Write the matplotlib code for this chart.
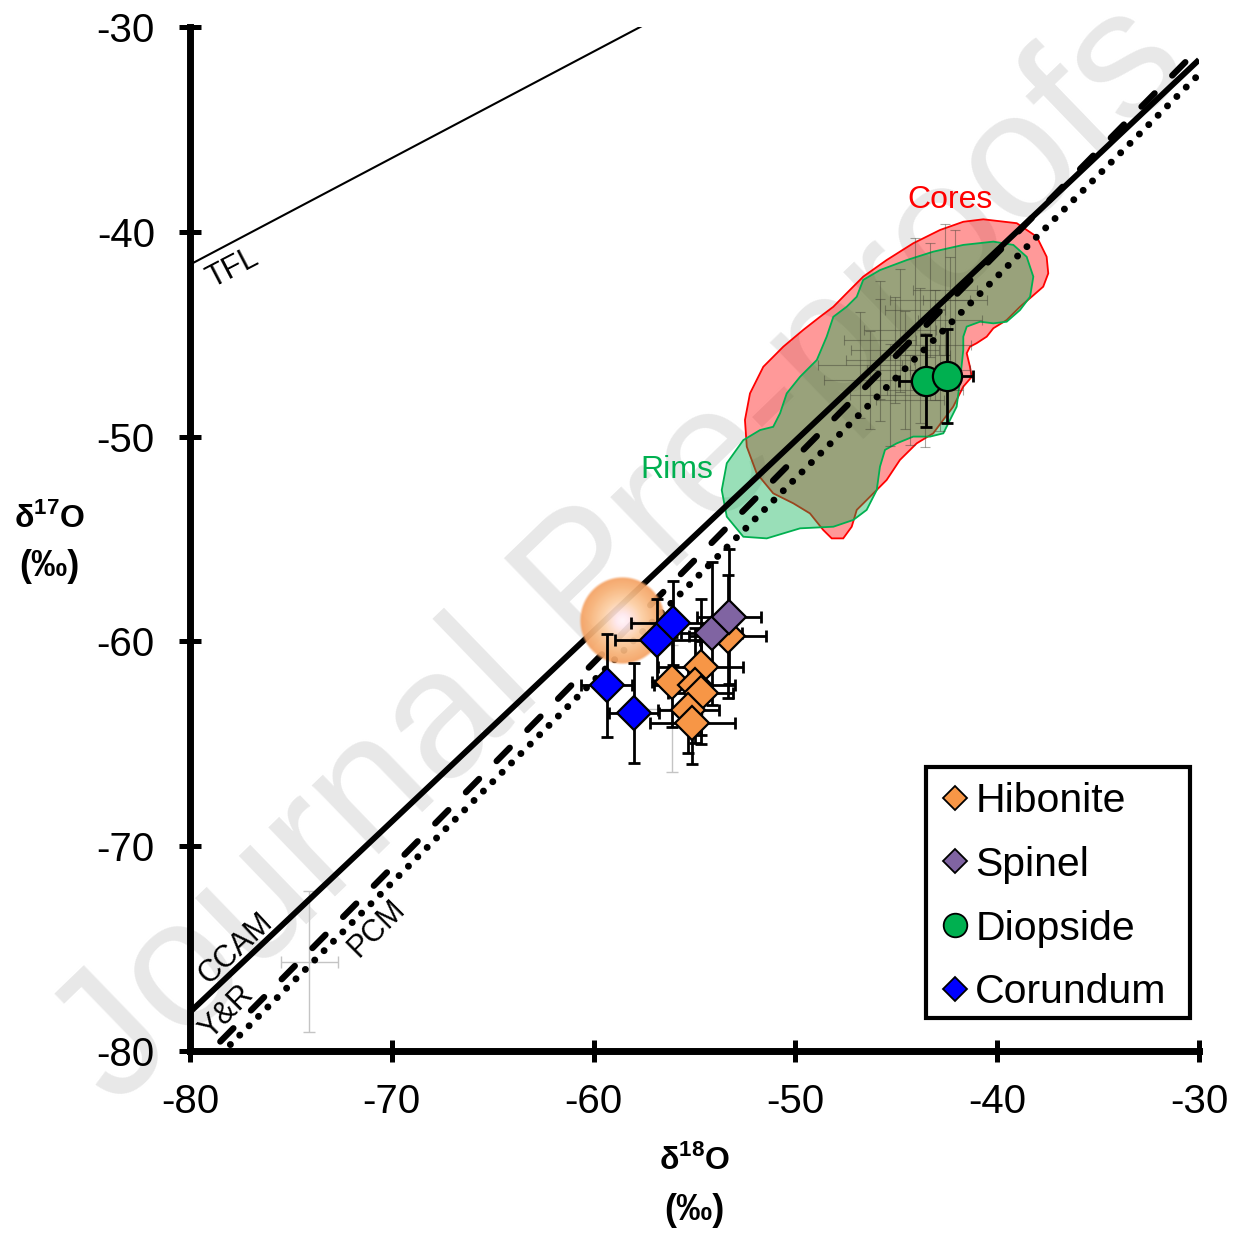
import numpy as np
import matplotlib
matplotlib.use("Agg")
import matplotlib.pyplot as plt
from matplotlib.lines import Line2D
from matplotlib.patches import Polygon, Rectangle

plt.rcParams['font.family'] = ['Liberation Sans', 'DejaVu Sans']
plt.rcParams['axes.unicode_minus'] = False
plt.rcParams['mathtext.fontset'] = 'custom'
plt.rcParams['mathtext.rm'] = 'Liberation Sans'
plt.rcParams['mathtext.bf'] = 'Liberation Sans:bold'

# ---------------- data ----------------
# Hibonite
hib_x = [-56.1, -54.7, -55.0, -54.7, -55.3, -55.1, -53.35]
hib_y = [-62.0, -61.25, -62.15, -62.5, -63.35, -64.0, -59.75]
hib_xerr = [1.0, 2.1, 2.0, 1.6, 1.5, 2.1, 1.9]
hib_yerr = [2.2, 3.3, 2.8, 2.5, 2.1, 2.0, 3.0]
# Spinel
spl_x = [-54.15, -53.3]
spl_y = [-59.6, -58.8]
spl_xerr = [1.5, 1.6]
spl_yerr = [3.5, 3.3]
# Diopside
di_x = [-43.55, -42.5]
di_y = [-47.3, -47.05]
di_xerr = [1.3, 1.3]
di_yerr = [2.25, 2.3]
# Corundum
cor_x = [-59.35, -58.0, -56.85, -56.05]
cor_y = [-62.15, -63.5, -59.95, -59.1]
cor_xerr = [1.25, 1.25, 2.1, 2.1]
cor_yerr = [2.5, 2.45, 2.0, 2.05]

# literature data (faint grey)
lit_x = [-44.82, -44.07, -43.33, -42.59, -45.06, -45.81, -46.30, -44.57, -43.83,
         -43.08, -42.34, -45.31, -44.32, -43.58, -42.83, -46.80, -42.09, -45.81]
lit_y = [-44.8, -43.82, -43.33, -42.84, -45.77, -46.26, -47.24, -46.75, -46.02,
         -45.53, -44.31, -47.97, -48.21, -47.72, -46.75, -46.50, -43.33, -45.28]
lit_xerr = [1.8, 1.5, 2.0, 1.6, 2.2, 1.7, 2.3, 1.9, 1.5, 1.8, 1.6, 2.0, 1.7, 1.9,
            1.5, 2.1, 1.6, 1.8]
lit_yerr = [3.0, 3.5, 2.8, 3.2, 2.6, 3.0, 2.4, 2.9, 3.3, 2.7, 3.1, 2.5, 2.2, 2.8,
            3.0, 2.6, 3.4, 2.9]
lit2_x = [-74.08, -56.1]
lit2_y = [-75.65, -63.3]
lit2_xerr = [1.41, 1.5]
lit2_yerr = [3.44, 3.1]

# Sun
sun_x, sun_y, sun_r = -58.55, -59.0, 2.15

# Cores and rims outlines (delta18O, delta17O)
cores_x = [-40.69, -39.03, -38.04, -37.55, -37.47, -37.72, -38.29, -38.87, -39.53,
           -40.19, -40.52, -41.02, -41.35, -41.51, -41.35, -41.26, -41.68, -42.18,
           -43.17, -43.99, -44.82, -45.48, -46.47, -46.96, -47.21, -47.63, -48.20,
           -48.62, -49.28, -50.10, -51.10, -51.92, -52.41, -52.50, -52.25, -51.59,
           -50.60, -49.61, -48.78, -48.12, -47.46, -46.64, -45.48, -44.16, -42.83,
           -41.68]
cores_y = [-39.39, -39.58, -40.24, -41.22, -42.03, -42.68, -43.17, -43.66, -44.31,
           -44.71, -45.12, -45.44, -45.61, -45.93, -46.59, -47.08, -47.56, -48.54,
           -49.84, -50.33, -51.14, -52.12, -53.10, -53.58, -54.40, -54.97, -54.97,
           -54.56, -53.75, -53.26, -52.77, -51.79, -50.49, -49.19, -47.89, -46.59,
           -45.61, -44.79, -44.15, -43.66, -43.00, -42.19, -41.38, -40.56, -39.91,
           -39.51]
rims_x = [-40.19, -39.20, -38.54, -38.21, -38.37, -38.87, -39.53, -40.19, -40.85,
          -41.51, -41.68, -41.68, -41.84, -42.01, -42.67, -43.33, -44.16, -44.98,
          -45.56, -45.81, -45.97, -46.47, -47.13, -48.12, -49.77, -51.42, -52.58,
          -53.40, -53.65, -53.40, -52.58, -51.75, -51.10, -50.76, -50.43, -49.77,
          -48.94, -48.45, -48.12, -47.46, -46.96, -46.64, -45.81, -44.48, -43.17,
          -41.68]
rims_y = [-40.48, -40.64, -41.22, -42.19, -43.17, -43.82, -44.39, -44.47, -44.39,
          -44.63, -45.12, -45.77, -47.24, -48.54, -49.84, -50.00, -50.00, -50.33,
          -50.65, -51.47, -52.61, -53.58, -54.07, -54.40, -54.48, -54.97, -54.89,
          -53.91, -52.61, -51.30, -50.17, -49.68, -49.52, -48.86, -47.89, -47.08,
          -46.26, -45.12, -44.15, -43.66, -43.17, -42.35, -41.87, -41.38, -40.97,
          -40.64]

# reference lines: slope, intercept, x-range
tfl_slope, tfl_int, tfl_xr = 0.52, 0.0, (-80, -30)
ccam_slope, ccam_int, ccam_xr = 0.93, -3.7, (-80, -30)
yr_slope, yr_int, yr_xr = 1.0, -1.04, (-78.5, -30)
pcm_slope, pcm_int, pcm_xr = 0.987, -2.70, (-78.0, -30)

x_ticks = [-80, -70, -60, -50, -40, -30]
y_ticks = [-80, -70, -60, -50, -40, -30]

c_hib = '#F79646'
c_spl = '#8064A2'
c_di = '#00B050'
c_cor = '#0000FF'

# ---------------- figure ----------------
W, H = 1241, 1234
fig = plt.figure(figsize=(W / 100, H / 100), dpi=100)
fig.patch.set_facecolor('white')
AX_L, AX_R, AX_T, AX_B = 190, 1199, 27, 1051
ax = fig.add_axes([AX_L / W, 1 - AX_B / H, (AX_R - AX_L) / W, (AX_B - AX_T) / H])
ax.patch.set_visible(False)

def axfrac(px, py):
    return (px - AX_L) / (AX_R - AX_L), (AX_B - py) / (AX_B - AX_T)

# watermark
fig.text(622 / W, 1 - 555 / H, 'Journal Pre-proofs', rotation=44, fontsize=131,
         color='#e8e8e8', ha='center', va='center', rotation_mode='anchor',
         zorder=-10, family='Liberation Sans')

# regions
ax.add_patch(Polygon(np.column_stack([cores_x, cores_y]), closed=True,
                     facecolor=(1, 0, 0, 0.4), edgecolor='#ff0000', lw=1.3, zorder=1))
ax.add_patch(Polygon(np.column_stack([rims_x, rims_y]), closed=True,
                     facecolor=(0, 0.69, 0.31, 0.4), edgecolor='#00b050', lw=1.3, zorder=1.1))

# literature error bars
ax.errorbar(lit_x, lit_y, xerr=lit_xerr, yerr=lit_yerr, fmt='none',
            ecolor=(0.25, 0.25, 0.2, 0.45), elinewidth=0.8, capsize=3.5,
            capthick=0.8, zorder=1.5)
ax.errorbar(lit2_x, lit2_y, xerr=lit2_xerr, yerr=lit2_yerr, fmt='none',
            ecolor='#c4c4c4', elinewidth=1.0, capsize=4, capthick=1.0, zorder=1.5)

# reference lines
def ref_line(slope, intercept, xr):
    xs = np.array(xr, dtype=float)
    return xs, slope * xs + intercept

xs, ys = ref_line(tfl_slope, tfl_int, tfl_xr)
ax.plot(xs, ys, color='black', lw=1.5, zorder=2)
xs, ys = ref_line(ccam_slope, ccam_int, ccam_xr)
ax.plot(xs, ys, color='black', lw=4.2, solid_capstyle='butt', zorder=2)
xs, ys = ref_line(yr_slope, yr_int, yr_xr)
ax.plot(xs, ys, color='black', lw=4.5, dashes=(3.0, 4.0), dash_capstyle='round', zorder=2)
xs, ys = ref_line(pcm_slope, pcm_int, pcm_xr)
ax.plot(xs, ys, color='black', lw=5.0, dashes=(0.01, 1.9), dash_capstyle='round', zorder=2)

# Sun glow
N = 301
g = np.linspace(-1, 1, N)
gx, gy = np.meshgrid(g, g)
r = np.sqrt(gx ** 2 + gy ** 2)
stops = np.array([0.0, 0.15, 0.45, 0.75, 1.0])
cols = np.array([[1.00, 0.96, 0.98],
                 [1.00, 0.91, 0.93],
                 [0.99, 0.81, 0.64],
                 [0.97, 0.70, 0.47],
                 [0.96, 0.62, 0.37]])
rc = np.clip(r, 0, 1)
col = np.dstack([np.interp(rc, stops, cols[:, k]) for k in range(3)])
alpha = np.clip((1 - r) / 0.06, 0, 1) * 0.93
img = np.dstack([col, alpha])
ax.imshow(img, extent=[sun_x - sun_r, sun_x + sun_r, sun_y - sun_r, sun_y + sun_r],
          origin='lower', aspect='auto', zorder=3, interpolation='bilinear')

# data points
ekw = dict(fmt='none', ecolor='black', elinewidth=2.0, capsize=4.3, capthick=2.0, zorder=4)
ax.errorbar(hib_x, hib_y, xerr=hib_xerr, yerr=hib_yerr, **ekw)
ax.errorbar(spl_x, spl_y, xerr=spl_xerr, yerr=spl_yerr, **ekw)
ax.errorbar(cor_x, cor_y, xerr=cor_xerr, yerr=cor_yerr, **ekw)
ax.errorbar(di_x, di_y, xerr=di_xerr, yerr=di_yerr, **ekw)
mkw = dict(ls='none', mec='black', mew=1.6, zorder=5)
ax.plot(hib_x, hib_y, marker='D', ms=17, mfc=c_hib, **mkw)
ax.plot(spl_x, spl_y, marker='D', ms=17, mfc=c_spl, **mkw)
ax.plot(cor_x, cor_y, marker='D', ms=17, mfc=c_cor, **mkw)
ax.plot(di_x, di_y, marker='o', ms=21, mfc=c_di, **mkw)

# text labels
ax.text(-42.34, -38.45, 'Cores', color='#ff0000', fontsize=23, ha='center', va='center')
ax.text(-55.87, -51.63, 'Rims', color='#00b050', fontsize=23, ha='center', va='center')
ax.text(-77.9, -41.8, 'TFL', fontsize=22, rotation=27.5, ha='center', va='center',
        rotation_mode='anchor')
ax.text(-77.75, -75.0, 'CCAM', fontsize=22, rotation=43, ha='center', va='center',
        rotation_mode='anchor')
ax.text(-78.15, -78.1, 'Y&R', fontsize=22, rotation=45, ha='center', va='center',
        rotation_mode='anchor')
ax.text(-70.73, -74.04, 'PCM', fontsize=22, rotation=45, ha='center', va='center',
        rotation_mode='anchor')

# axes styling
ax.set_xlim(-80, -30)
ax.set_ylim(-80, -30)
ax.set_xticks(x_ticks)
ax.set_yticks(y_ticks)
ax.set_xticklabels([str(v) for v in x_ticks])
ax.set_yticklabels([str(v) for v in y_ticks])
for s in ['top', 'right']:
    ax.spines[s].set_visible(False)
for s in ['left', 'bottom']:
    ax.spines[s].set_linewidth(5)
ax.tick_params(direction='inout', length=16.5, width=3.6, labelsize=29, pad=17)
ax.tick_params(axis='x', pad=15)

# axis titles
tkw = dict(fontsize=23, fontweight='bold', ha='center', va='center')
pkw = dict(fontsize=26, fontweight='bold', ha='center', va='center')
fig.text(50 / W, 1 - 518 / H, r'δ$^{\mathbf{17}}$O', **tkw)
fig.text(49 / W, 1 - 567 / H, '(‰)', **pkw)
fig.text(695 / W, 1 - 1160 / H, r'δ$^{\mathbf{18}}$O', **tkw)
fig.text(694 / W, 1 - 1210 / H, '(‰)', **pkw)

# legend (frame drawn separately)
x0, y0 = axfrac(926, 1018)
x1, y1 = axfrac(1190, 767)
ax.add_patch(Rectangle((x0, y0), x1 - x0, y1 - y0, transform=ax.transAxes,
                       facecolor='white', edgecolor='black', lw=3, zorder=9,
                       joinstyle='miter'))
handles = [
    Line2D([], [], ls='none', marker='D', ms=12, mfc=c_hib, mec='black', mew=1.3),
    Line2D([], [], ls='none', marker='D', ms=12, mfc=c_spl, mec='black', mew=1.3),
    Line2D([], [], ls='none', marker='o', ms=17, mfc=c_di, mec='black', mew=1.3),
    Line2D([], [], ls='none', marker='D', ms=12, mfc=c_cor, mec='black', mew=1.3),
]
labels = ['Hibonite', 'Spinel', 'Diopside', 'Corundum']
leg = ax.legend(handles, labels, loc='upper left',
                bbox_to_anchor=axfrac(943, 782),
                fontsize=29.5, frameon=False,
                handlelength=0.6, handletextpad=0.19,
                labelspacing=0.63, borderpad=0, borderaxespad=0)
leg.set_zorder(10)

fig.savefig('out.png', dpi=100)
